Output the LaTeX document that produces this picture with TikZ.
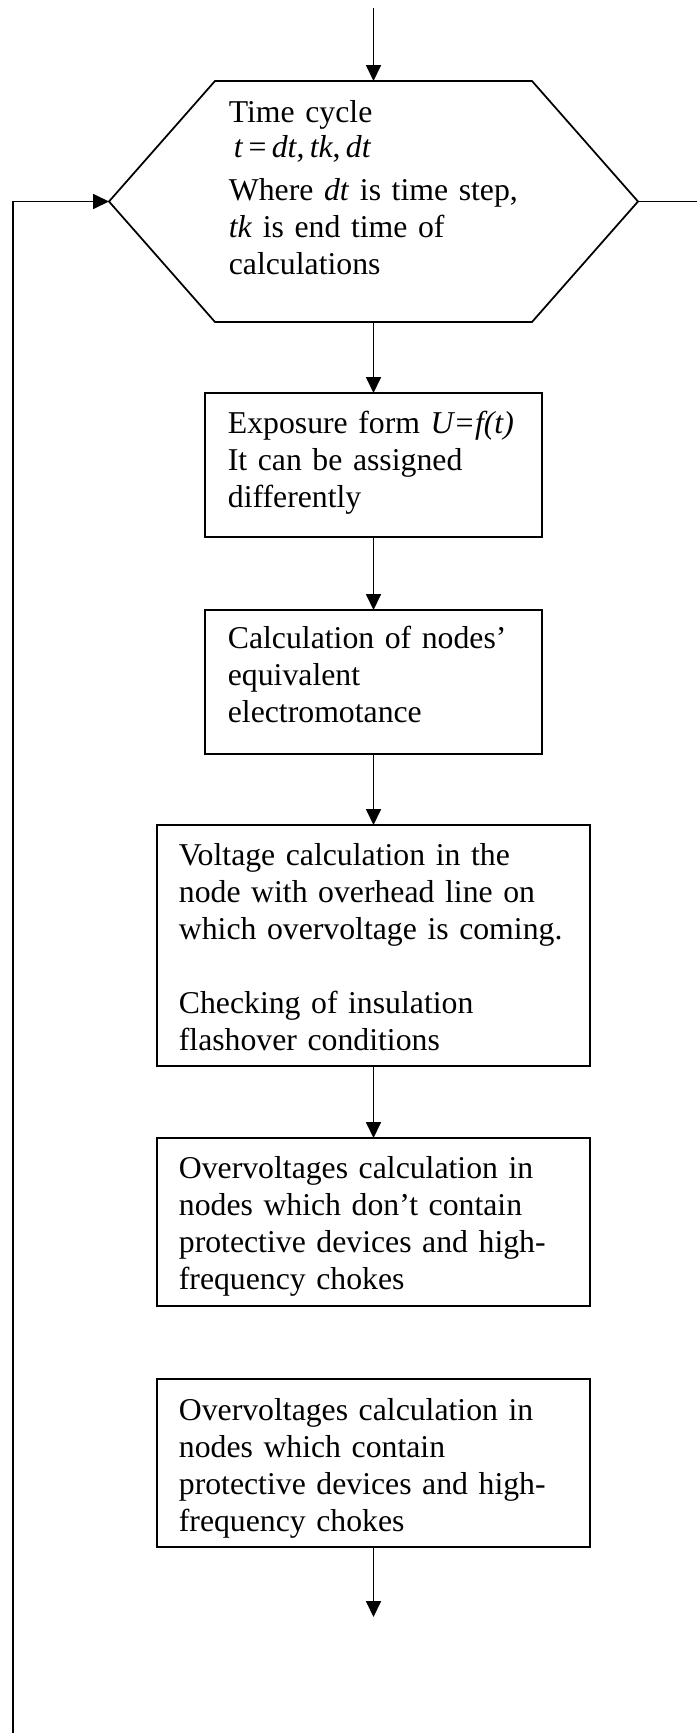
\documentclass[tikz,border=0pt]{standalone}
\usepackage{fontspec}
\setmainfont{Liberation Serif}
\usetikzlibrary{arrows.meta}
\begin{document}
\begin{tikzpicture}[x=0.4pt,y=-0.4pt,line width=0.7pt,
  arr/.style={-{Triangle[length=6.4pt,width=6pt]}},
  box/.style={draw,rectangle,inner sep=0pt,outer sep=0pt},
  narrowbox/.style={box,minimum width=134.8pt},
  widebox/.style={box,minimum width=173.2pt},
  txt/.style={anchor=base west,inner sep=0pt,text width=190pt,align=left,
    font=\fontsize{12.7}{14.8}\selectfont}]
\useasboundingbox (0,0) rectangle (697,1733);
% hexagon
\coordinate (hT) at (373.5,81);
\coordinate (hB) at (373.5,322);
\coordinate (hL) at (109,201.5);
\coordinate (hR) at (638,201.5);
\coordinate (hTL) at (215,81);
\coordinate (hTR) at (532,81);
\coordinate (hBL) at (215,322);
\coordinate (hBR) at (532,322);
\draw (hTL) -- (hTR) -- (hR) -- (hBR) -- (hBL) -- (hL) -- cycle;
\node[txt] (hextext) at (228,122) {Time cycle\\[-0.8pt]
\hspace*{2pt}\textit{t}\,=\,\textit{dt},\,\textit{tk},\,\textit{dt}\\[2.4pt]
Where \textit{dt} is time step,\\
\textit{tk} is end time of\\
calculations};
% boxes
\node[narrowbox,minimum height=57.6pt] (b1) at (373.5,465) {};
\node[narrowbox,minimum height=57.6pt] (b2) at (373.5,682) {};
\node[widebox,minimum height=96.4pt] (b3) at (373.5,945.5) {};
\node[widebox,minimum height=67.2pt] (b4) at (373.5,1222) {};
\node[widebox,minimum height=67.2pt] (b5) at (373.5,1463) {};
\node[txt] (t1) at (227,433) {Exposure form \textit{U=f(t)}\\It can be assigned\\differently};
\node[txt] (t2) at (227,648) {Calculation of nodes’\\equivalent\\electromotance};
\node[txt] (t3) at (178,865) {Voltage calculation in the\\node with overhead line on\\which overvoltage is coming.\\[14.8pt]Checking of insulation\\flashover conditions};
\node[txt] (t4) at (178,1178) {Overvoltages calculation in\\nodes which don’t contain\\protective devices and high-\\frequency chokes};
\node[txt] (t5) at (178,1420) {Overvoltages calculation in\\nodes which contain\\protective devices and high-\\frequency chokes};
% connectors
\coordinate (topstart) at (373.5,8);
\coordinate (endc) at (373.5,1617);
\coordinate (loopB) at (13,1733);
\coordinate (rightE) at (697,201.5);
\draw[arr] (topstart) -- (hT);
\draw[arr] (hB) -- (b1.north);
\draw[arr] (b1.south) -- (b2.north);
\draw[arr] (b2.south) -- (b3.north);
\draw[arr] (b3.south) -- (b4.north);
\draw[arr] (b5.south) -- (endc);
\draw[arr] (loopB) |- (hL);
\draw (hR) -- (rightE);
\end{tikzpicture}
\end{document}
